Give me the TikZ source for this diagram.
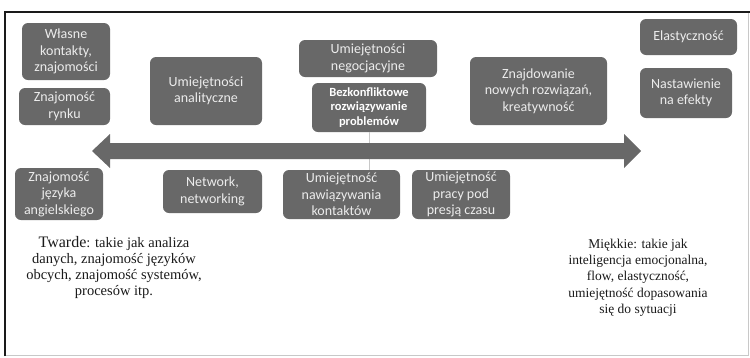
\documentclass[tikz,border=0pt]{standalone}
\usepackage{fontspec}
\setmainfont{Liberation Serif}
\newfontfamily\boxfont{Carlito}
\usepackage{tikz}
\definecolor{gray2}{HTML}{1a1a1a}
\definecolor{gray4}{HTML}{686868}
\definecolor{gray8}{HTML}{c8c8c8}
\definecolor{gray9}{HTML}{ececec}

\begin{document}
\begin{tikzpicture}[x=1pt, y=-1pt, align=center,
  skill/.style={fill=gray4, rounded corners=6pt, inner sep=0pt, text=gray9,
    font=\boxfont\fontsize{14}{16.5}\selectfont},
  note/.style={text=gray2, font=\fontsize{13.5}{16.3}\selectfont}]
\useasboundingbox (0,0) rectangle (750,357);
% frame
\draw[gray8, line width=1pt] (5,12) rectangle (748,355);
\draw[gray2, line width=1.5pt] (5,356) -- (5,12) -- (750,12);

% boxes above the arrow
\node[skill, minimum width=88pt, minimum height=57pt] (wlasne) at (66,51.5) {Własne\\kontakty,\\znajomości};
\node[skill, minimum width=91pt, minimum height=37pt] (rynek) at (64.5,106.5) {Znajomość\\rynku};
\node[skill, minimum width=112pt, minimum height=68pt] (analit) at (206,91) {Umiejętności\\analityczne};
\node[skill, minimum width=138pt, minimum height=37pt] (negoc) at (368,58.5) {Umiejętności\\negocjacyjne};
\node[skill, minimum width=114pt, minimum height=49pt, text=white,
  font=\boxfont\bfseries\fontsize{12.5}{14.5}\selectfont] (bezkonf) at (369,107.5) {Bezkonfliktowe\\rozwiązywanie\\problemów};
\node[skill, minimum width=137pt, minimum height=68pt] (nowe) at (538.5,91) {Znajdowanie\\nowych rozwiązań,\\kreatywność};
\node[skill, minimum width=97pt, minimum height=36pt] (elast) at (688.5,37) {Elastyczność};
\node[skill, minimum width=92pt, minimum height=50pt] (nastaw) at (686,93) {Nastawienie\\na efekty};

% boxes below the arrow
\node[skill, minimum width=88pt, minimum height=52pt] (angiel) at (59,194) {Znajomość\\języka\\angielskiego};
\node[skill, minimum width=99pt, minimum height=43pt] (network) at (212.5,191.5) {Network,\\networking};
\node[skill, minimum width=117pt, minimum height=49pt] (kontakt) at (341.5,194.5) {Umiejętność\\nawiązywania\\kontaktów};
\node[skill, minimum width=98pt, minimum height=49pt] (presja) at (461,194.5) {Umiejętność\\pracy pod\\presją czasu};

\draw[gray8, line width=0.8pt] (bezkonf.south) -- (bezkonf.south |- kontakt.north);

% arrow
\fill[gray4] (92,151) -- (110,134) -- (110,143) -- (624,143) -- (624,134) -- (641,151)
  -- (624,168) -- (624,159) -- (110,159) -- (110,168) -- cycle;

% notes
\node[note, font=\fontsize{14.5}{16.3}\selectfont] (twarde) at (114,267.5) {{\fontsize{16}{16.3}\selectfont Twarde}: takie jak analiza\\danych, znajomość języków\\obcych, znajomość systemów,\\procesów itp.};
\node[note] (miekkie) at (638,277.5) {Miękkie: takie jak\\inteligencja emocjonalna,\\flow, elastyczność,\\umiejętność dopasowania\\się do sytuacji};
\end{tikzpicture}
\end{document}
